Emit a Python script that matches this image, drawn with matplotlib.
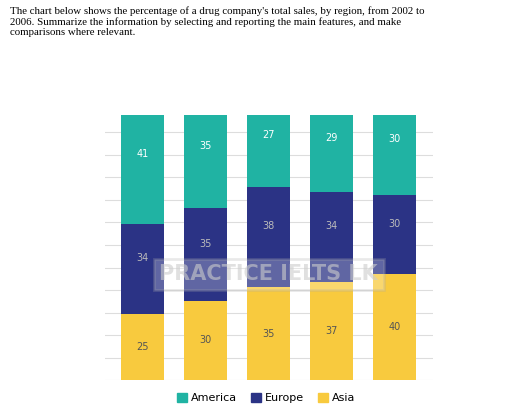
import numpy as np
import matplotlib.pyplot as plt

years = ['2002', '2003', '2004', '2005', '2006']
america = [41, 35, 27, 29, 30]
europe = [34, 35, 38, 34, 30]
asia = [25, 30, 35, 37, 40]

c_am = '#20b3a3'
c_eu = '#2b3385'
c_as = '#f8ca3e'

fig = plt.figure(figsize=(5.12, 4.11), dpi=100)
fig.text(0.02, 0.985,
         "The chart below shows the percentage of a drug company's total sales, by region, from 2002 to\n"
         "2006. Summarize the information by selecting and reporting the main features, and make\n"
         "comparisons where relevant.",
         ha='left', va='top', fontsize=7.8, family='Liberation Serif', linespacing=1.15)

ax = fig.add_axes([0.205, 0.075, 0.64, 0.645])
x = np.arange(len(years))
w = 0.68
ax.bar(x, asia, w, color=c_as, zorder=2)
ax.bar(x, europe, w, bottom=asia, color=c_eu, zorder=2)
bot2 = np.array(asia) + np.array(europe)
ax.bar(x, america, w, bottom=bot2, color=c_am, zorder=2)

for i in range(len(years)):
    ax.text(x[i], asia[i] / 2, str(asia[i]), ha='center', va='center', fontsize=7, color='#555555', zorder=5)
    ax.text(x[i], asia[i] + europe[i] / 2 + 4, str(europe[i]), ha='center', va='center', fontsize=7, color='#bbbbbb', zorder=5)
    ax.text(x[i], bot2[i] + america[i] / 2 + 6, str(america[i]), ha='center', va='center', fontsize=7, color='white', zorder=5)

ax.set_xlim(-0.6, 4.6)
ax.set_ylim(0, 100)
ax.set_yticks(np.arange(0, 101, 8.5))
ax.yaxis.grid(True, color='#dddddd', lw=0.8, zorder=0)
ax.set_xticks([])
ax.tick_params(left=False, labelleft=False)
for s in ax.spines.values():
    s.set_visible(False)

ax.text(2, 40, 'PRACTICE IELTS LK', ha='center', va='center', fontsize=15, fontweight='bold',
        color='#cccccc', alpha=0.6, zorder=4,
        bbox=dict(facecolor='white', alpha=0.25, edgecolor='#aaaaaa', lw=2))

handles = [plt.Rectangle((0, 0), 1, 1, color=c) for c in (c_am, c_eu, c_as)]
fig.legend(handles, ['America', 'Europe', 'Asia'], loc='lower center', ncol=3, frameon=False,
           fontsize=8, bbox_to_anchor=(0.52, -0.005), handlelength=0.9, handleheight=0.9,
           columnspacing=1.2, handletextpad=0.4)

fig.savefig('out.png', dpi=100)
